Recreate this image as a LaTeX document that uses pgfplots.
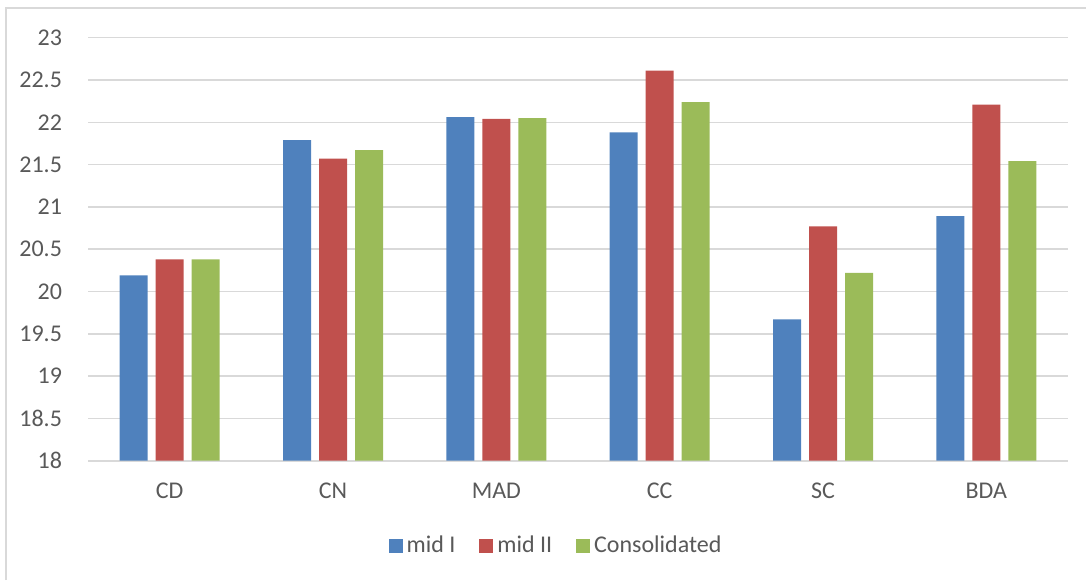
\documentclass[border=0pt]{standalone}
\usepackage{fontspec}
\setmainfont{Carlito}
\usepackage{pgfplots}
\pgfplotsset{compat=1.18}
\definecolor{cblue}{HTML}{4F81BD}
\definecolor{cred}{HTML}{C0504D}
\definecolor{cgreen}{HTML}{9BBB59}
\definecolor{ctext}{HTML}{595959}
\definecolor{cgrid}{HTML}{D9D9D9}
\begin{document}
\begin{tikzpicture}
\path[use as bounding box] (0,0) rectangle (543pt,290pt);
\draw[cgrid, line width=0.9pt] (3pt,0) -- (3pt,286pt) -- (543pt,286pt);
\begin{axis}[
  at={(44pt,59.65pt)}, anchor=south west,
  scale only axis, width=490pt, height=211.5pt,
  ybar=4pt, bar width=14pt,
  xmin=-0.5, xmax=5.5, ymin=18, ymax=23,
  xtick={0,1,2,3,4,5},
  xticklabels={CD,CN,MAD,CC,SC,BDA},
  ytick={18,18.5,...,23},
  yticklabel style={/pgf/number format/fixed, /pgf/number format/precision=1},
  /pgf/number format/assume math mode=true,
  ymajorgrids, grid style={cgrid, line width=0.75pt},
  axis line style={draw=none},
  major tick length=0pt,
  tick label style={font=\fontsize{12}{14}\selectfont, text=ctext},
  yticklabel style={xshift=-9.5pt},
  xticklabel style={yshift=-7.5pt},
  legend style={draw=none, at={(0.4786,-0.2017)}, anchor=center,
    font=\fontsize{12}{14}\selectfont, text=ctext,
    legend columns=3, /tikz/every even column/.append style={column sep=10pt}},
  legend image code/.code={\fill[#1] (0pt,-3.5pt) rectangle (7pt,3.5pt);},
  extra y ticks={18}, extra y tick labels={},
  extra y tick style={grid style={cgrid, line width=1pt}},
]
\addplot[fill=cblue, draw=none] coordinates {(0,20.19) (1,21.79) (2,22.06) (3,21.88) (4,19.67) (5,20.89)};
\addplot[fill=cred, draw=none] coordinates {(0,20.38) (1,21.57) (2,22.04) (3,22.61) (4,20.77) (5,22.21)};
\addplot[fill=cgreen, draw=none] coordinates {(0,20.38) (1,21.67) (2,22.05) (3,22.24) (4,20.22) (5,21.54)};
\legend{mid I, mid II, Consolidated}
\end{axis}
\end{tikzpicture}
\end{document}
